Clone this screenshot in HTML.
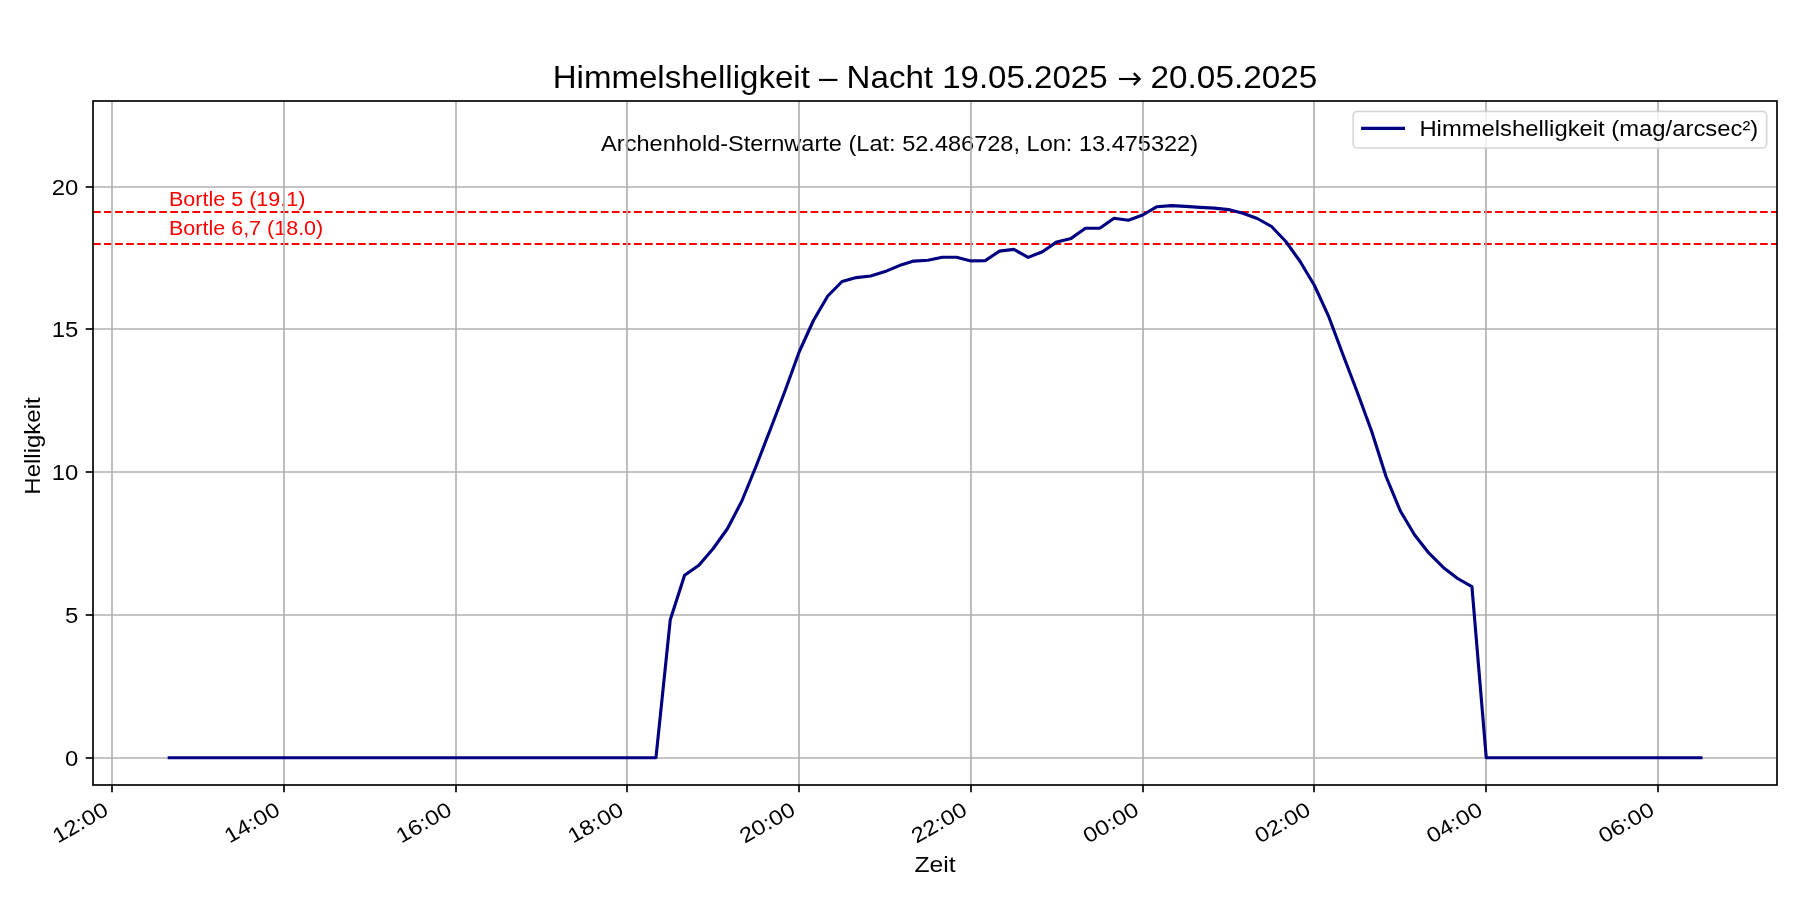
<!DOCTYPE html><html><head><meta charset="utf-8"><style>html,body{margin:0;padding:0;background:#fff;width:1800px;height:900px;overflow:hidden}svg{display:block;will-change:transform}text{font-family:"Liberation Sans",sans-serif}</style></head><body>
<svg width="1800" height="900" viewBox="0 0 1800 900">
<rect x="0" y="0" width="1800" height="900" fill="#ffffff"/>
<text x="899.60" y="150.80" font-size="21.979" fill="#000" text-anchor="middle" textLength="596.94" lengthAdjust="spacingAndGlyphs">Archenhold-Sternwarte (Lat: 52.486728, Lon: 13.475322)</text>
<defs><clipPath id="ac"><rect x="93.0" y="101.0" width="1684.0" height="684.0"/></clipPath></defs>
<g clip-path="url(#ac)">
<text x="169.00" y="205.80" font-size="19.781" fill="#ff0000" text-anchor="start" textLength="136.37" lengthAdjust="spacingAndGlyphs">Bortle 5 (19.1)</text>
<text x="169.00" y="234.80" font-size="19.781" fill="#ff0000" text-anchor="start" textLength="154.26" lengthAdjust="spacingAndGlyphs">Bortle 6,7 (18.0)</text>
<line x1="93.0" y1="212.0" x2="1777.0" y2="212.0" stroke="#ff0000" stroke-width="2.08" stroke-dasharray="7.71 3.33"/>
<line x1="93.0" y1="244.0" x2="1777.0" y2="244.0" stroke="#ff0000" stroke-width="2.08" stroke-dasharray="7.71 3.33"/>
<line x1="112.00" y1="101.0" x2="112.00" y2="785.0" stroke="#b0b0b0" stroke-width="1.67"/>
<line x1="284.00" y1="101.0" x2="284.00" y2="785.0" stroke="#b0b0b0" stroke-width="1.67"/>
<line x1="456.00" y1="101.0" x2="456.00" y2="785.0" stroke="#b0b0b0" stroke-width="1.67"/>
<line x1="627.00" y1="101.0" x2="627.00" y2="785.0" stroke="#b0b0b0" stroke-width="1.67"/>
<line x1="799.00" y1="101.0" x2="799.00" y2="785.0" stroke="#b0b0b0" stroke-width="1.67"/>
<line x1="971.00" y1="101.0" x2="971.00" y2="785.0" stroke="#b0b0b0" stroke-width="1.67"/>
<line x1="1143.00" y1="101.0" x2="1143.00" y2="785.0" stroke="#b0b0b0" stroke-width="1.67"/>
<line x1="1314.00" y1="101.0" x2="1314.00" y2="785.0" stroke="#b0b0b0" stroke-width="1.67"/>
<line x1="1486.00" y1="101.0" x2="1486.00" y2="785.0" stroke="#b0b0b0" stroke-width="1.67"/>
<line x1="1658.00" y1="101.0" x2="1658.00" y2="785.0" stroke="#b0b0b0" stroke-width="1.67"/>
<line x1="93.0" y1="758.00" x2="1777.0" y2="758.00" stroke="#b0b0b0" stroke-width="1.67"/>
<line x1="93.0" y1="615.00" x2="1777.0" y2="615.00" stroke="#b0b0b0" stroke-width="1.67"/>
<line x1="93.0" y1="472.00" x2="1777.0" y2="472.00" stroke="#b0b0b0" stroke-width="1.67"/>
<line x1="93.0" y1="329.00" x2="1777.0" y2="329.00" stroke="#b0b0b0" stroke-width="1.67"/>
<line x1="93.0" y1="187.00" x2="1777.0" y2="187.00" stroke="#b0b0b0" stroke-width="1.67"/>
<polyline points="169.26,757.70 183.57,757.70 197.89,757.70 212.21,757.70 226.52,757.70 240.84,757.70 255.15,757.70 269.47,757.70 283.78,757.70 298.10,757.70 312.41,757.70 326.73,757.70 341.04,757.70 355.36,757.70 369.67,757.70 383.99,757.70 398.30,757.70 412.62,757.70 426.93,757.70 441.25,757.70 455.56,757.70 469.88,757.70 484.19,757.70 498.50,757.70 512.82,757.70 527.13,757.70 541.45,757.70 555.77,757.70 570.08,757.70 584.39,757.70 598.71,757.70 613.02,757.70 627.34,757.70 641.65,757.70 655.97,757.70 670.28,619.70 684.60,575.20 698.91,565.20 713.23,548.50 727.55,528.50 741.86,501.00 756.17,466.00 770.49,429.00 784.80,391.50 799.12,352.00 813.43,320.50 827.75,296.00 842.07,281.50 856.38,277.60 870.70,276.00 885.01,271.60 899.32,265.60 913.64,261.10 927.96,260.20 942.27,257.20 956.59,257.20 970.90,260.90 985.21,260.60 999.53,251.10 1013.85,249.40 1028.16,257.40 1042.47,251.70 1056.79,241.90 1071.11,238.40 1085.42,228.30 1099.74,228.30 1114.05,218.30 1128.37,220.20 1142.68,215.00 1156.99,206.70 1171.31,205.60 1185.62,206.40 1199.94,207.40 1214.26,208.10 1228.57,209.60 1242.88,213.20 1257.20,218.50 1271.52,226.50 1285.83,241.50 1300.14,261.50 1314.46,285.50 1328.77,316.70 1343.09,355.00 1357.40,392.50 1371.72,431.50 1386.04,476.50 1400.35,511.00 1414.66,535.00 1428.98,553.20 1443.30,567.40 1457.61,578.50 1471.92,586.60 1486.24,757.70 1500.56,757.70 1514.87,757.70 1529.18,757.70 1543.50,757.70 1557.81,757.70 1572.13,757.70 1586.45,757.70 1600.76,757.70 1615.08,757.70 1629.39,757.70 1643.70,757.70 1658.02,757.70 1672.34,757.70 1686.65,757.70 1700.96,757.70" fill="none" stroke="#000080" stroke-width="3.125" stroke-linejoin="round" stroke-linecap="square"/>
</g>
<rect x="93.0" y="101.0" width="1684.0" height="684.0" fill="none" stroke="#000" stroke-width="1.67"/>
<line x1="112.00" y1="785.0" x2="112.00" y2="792.29" stroke="#000" stroke-width="1.67"/>
<line x1="284.00" y1="785.0" x2="284.00" y2="792.29" stroke="#000" stroke-width="1.67"/>
<line x1="456.00" y1="785.0" x2="456.00" y2="792.29" stroke="#000" stroke-width="1.67"/>
<line x1="627.00" y1="785.0" x2="627.00" y2="792.29" stroke="#000" stroke-width="1.67"/>
<line x1="799.00" y1="785.0" x2="799.00" y2="792.29" stroke="#000" stroke-width="1.67"/>
<line x1="971.00" y1="785.0" x2="971.00" y2="792.29" stroke="#000" stroke-width="1.67"/>
<line x1="1143.00" y1="785.0" x2="1143.00" y2="792.29" stroke="#000" stroke-width="1.67"/>
<line x1="1314.00" y1="785.0" x2="1314.00" y2="792.29" stroke="#000" stroke-width="1.67"/>
<line x1="1486.00" y1="785.0" x2="1486.00" y2="792.29" stroke="#000" stroke-width="1.67"/>
<line x1="1658.00" y1="785.0" x2="1658.00" y2="792.29" stroke="#000" stroke-width="1.67"/>
<line x1="85.71" y1="758.00" x2="93.0" y2="758.00" stroke="#000" stroke-width="1.67"/>
<line x1="85.71" y1="615.00" x2="93.0" y2="615.00" stroke="#000" stroke-width="1.67"/>
<line x1="85.71" y1="472.00" x2="93.0" y2="472.00" stroke="#000" stroke-width="1.67"/>
<line x1="85.71" y1="329.00" x2="93.0" y2="329.00" stroke="#000" stroke-width="1.67"/>
<line x1="85.71" y1="187.00" x2="93.0" y2="187.00" stroke="#000" stroke-width="1.67"/>
<text x="78.40" y="765.60" font-size="21.979" fill="#000" text-anchor="end" textLength="13.28" lengthAdjust="spacingAndGlyphs">0</text>
<text x="78.40" y="622.60" font-size="21.979" fill="#000" text-anchor="end" textLength="13.28" lengthAdjust="spacingAndGlyphs">5</text>
<text x="78.40" y="479.60" font-size="21.979" fill="#000" text-anchor="end" textLength="26.56" lengthAdjust="spacingAndGlyphs">10</text>
<text x="78.40" y="336.60" font-size="21.979" fill="#000" text-anchor="end" textLength="26.56" lengthAdjust="spacingAndGlyphs">15</text>
<text x="78.40" y="194.60" font-size="21.979" fill="#000" text-anchor="end" textLength="26.56" lengthAdjust="spacingAndGlyphs">20</text>
<text x="109.74" y="813.79" font-size="21.042" fill="#000" text-anchor="end" textLength="60.16" lengthAdjust="spacingAndGlyphs" transform="rotate(-30 109.74 813.79)">12:00</text>
<text x="281.52" y="813.79" font-size="21.042" fill="#000" text-anchor="end" textLength="60.16" lengthAdjust="spacingAndGlyphs" transform="rotate(-30 281.52 813.79)">14:00</text>
<text x="453.30" y="813.79" font-size="21.042" fill="#000" text-anchor="end" textLength="60.16" lengthAdjust="spacingAndGlyphs" transform="rotate(-30 453.30 813.79)">16:00</text>
<text x="625.08" y="813.79" font-size="21.042" fill="#000" text-anchor="end" textLength="60.16" lengthAdjust="spacingAndGlyphs" transform="rotate(-30 625.08 813.79)">18:00</text>
<text x="796.86" y="813.79" font-size="21.042" fill="#000" text-anchor="end" textLength="60.16" lengthAdjust="spacingAndGlyphs" transform="rotate(-30 796.86 813.79)">20:00</text>
<text x="968.64" y="813.79" font-size="21.042" fill="#000" text-anchor="end" textLength="60.16" lengthAdjust="spacingAndGlyphs" transform="rotate(-30 968.64 813.79)">22:00</text>
<text x="1140.42" y="813.79" font-size="21.042" fill="#000" text-anchor="end" textLength="60.16" lengthAdjust="spacingAndGlyphs" transform="rotate(-30 1140.42 813.79)">00:00</text>
<text x="1312.20" y="813.79" font-size="21.042" fill="#000" text-anchor="end" textLength="60.16" lengthAdjust="spacingAndGlyphs" transform="rotate(-30 1312.20 813.79)">02:00</text>
<text x="1483.98" y="813.79" font-size="21.042" fill="#000" text-anchor="end" textLength="60.16" lengthAdjust="spacingAndGlyphs" transform="rotate(-30 1483.98 813.79)">04:00</text>
<text x="1655.76" y="813.79" font-size="21.042" fill="#000" text-anchor="end" textLength="60.16" lengthAdjust="spacingAndGlyphs" transform="rotate(-30 1655.76 813.79)">06:00</text>
<text x="935.00" y="871.80" font-size="21.979" fill="#000" text-anchor="middle" textLength="41.13" lengthAdjust="spacingAndGlyphs">Zeit</text>
<text x="39.80" y="446.00" font-size="21.979" fill="#000" text-anchor="middle" textLength="97.36" lengthAdjust="spacingAndGlyphs" transform="rotate(-90 39.8 446.0)">Helligkeit</text>
<text x="552.70" y="88.20" font-size="30.771" fill="#000" text-anchor="start" textLength="554.93" lengthAdjust="spacingAndGlyphs">Himmelshelligkeit – Nacht 19.05.2025</text>
<text x="1150.55" y="88.20" font-size="30.771" fill="#000" text-anchor="start" textLength="166.75" lengthAdjust="spacingAndGlyphs">20.05.2025</text>
<path d="M1119 79 H1139" stroke="#000" stroke-width="2.1" fill="none"/>
<polyline points="1133.8,73.1 1139.6,79 1133.8,84.9" stroke="#000" stroke-width="2.3" fill="none" stroke-linejoin="miter" stroke-linecap="butt"/>
<rect x="1353.2" y="111.4" width="413.40" height="36.60" rx="4.17" ry="4.17" fill="#ffffff" fill-opacity="0.8" stroke="#cccccc" stroke-opacity="0.8" stroke-width="1.67"/>
<line x1="1361.1" y1="128.4" x2="1405.0" y2="128.4" stroke="#000080" stroke-width="3.125" stroke-linecap="butt"/>
<text x="1419.40" y="136.00" font-size="21.979" fill="#000" text-anchor="start" textLength="338.87" lengthAdjust="spacingAndGlyphs">Himmelshelligkeit (mag/arcsec²)</text>
</svg></body></html>
